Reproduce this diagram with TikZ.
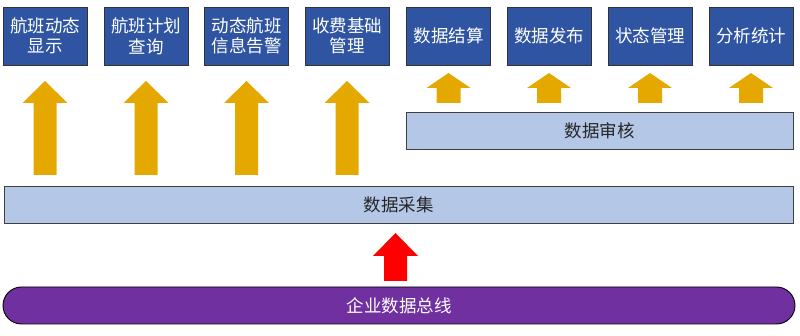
\documentclass[tikz,border=0pt]{standalone}
\usepackage{fontspec}
\newfontfamily\cjk{Noto Sans CJK SC}
\usetikzlibrary{positioning}
\definecolor{boxblue}{HTML}{2F55A2}
\definecolor{barblue}{HTML}{B4C7E7}
\definecolor{arrowgold}{HTML}{E5A800}
\definecolor{busviolet}{HTML}{7030A0}
\tikzset{
  topbox/.style={draw=black!80,line width=0.9pt,fill=boxblue,text=white,
    minimum width=84pt,minimum height=58pt,inner sep=0pt,align=center,
    font=\cjk\fontsize{17.5}{20.5}\selectfont},
  layerbar/.style={draw=black!75,line width=0.9pt,fill=barblue,text=black!85,
    minimum height=37pt,inner sep=0pt,font=\cjk\fontsize{17.5}{20}\selectfont},
  busbar/.style={draw=black,line width=0.9pt,fill=busviolet,text=white,
    minimum height=37pt,inner sep=0pt,rounded corners=18.5pt,
    font=\cjk\fontsize{17.5}{20}\selectfont}
}
% block arrow: colour, centre x, top y, head base y, bottom y, head half width, shaft half width
\newcommand{\blockarrow}[7]{%
  \fill[#1] (#2-#7,#5) -- (#2-#7,#4) -- (#2-#6,#4) -- (#2,#3)
    -- (#2+#6,#4) -- (#2+#7,#4) -- (#2+#7,#5) -- cycle;}
\begin{document}
\begin{tikzpicture}[x=1pt,y=1pt]
\useasboundingbox (0,0) rectangle (800,336);
% top row of functions
\foreach \name/\x/\txt in {fdisp/45/{航班动态\\显示},fplan/146/{航班计划\\查询},
    falarm/246.5/{动态航班\\信息告警},ffee/347/{收费基础\\管理},
    dsettle/448.5/{数据结算},dpub/549/{数据发布},dstate/650/{状态管理},dstat/751/{分析统计}}
  \node[topbox] (\name) at (\x,300) {\txt};
% layers
\node[layerbar,minimum width=387pt] (audit) at (599.5,205.5) {数据审核};
\node[layerbar,minimum width=789pt] (collect) at (398.5,131.5) {数据采集};
\node[busbar,minimum width=792pt] (bus) at (399,30.5) {企业数据总线};
% arrows
\foreach \x in {45,146,246.5,347}
  {\blockarrow{arrowgold}{\x}{255}{233}{161}{22.5}{11.5}}
\foreach \x in {448.5,549,650,751}
  {\blockarrow{arrowgold}{\x}{263}{248}{233}{22}{12}}
\blockarrow{red}{395.5}{103}{80}{55}{22.5}{11.5}
\end{tikzpicture}
\end{document}
